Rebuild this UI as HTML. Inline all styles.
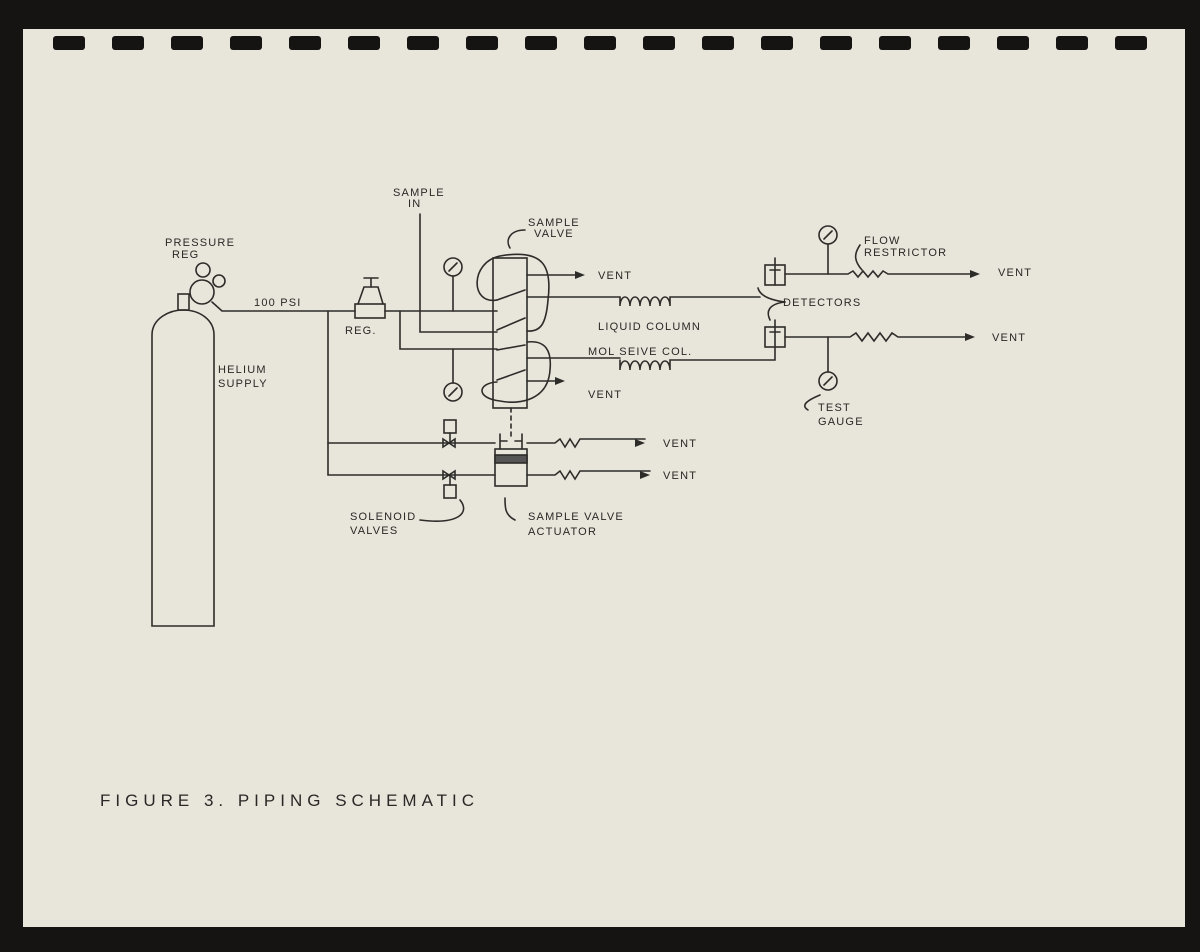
<!DOCTYPE html>
<html><head><meta charset="utf-8"><style>
html,body{margin:0;padding:0;background:#151413;}
svg{display:block}
text{font-family:"Liberation Sans",sans-serif;fill:#2a2826;font-size:11px;letter-spacing:1.2px}
</style></head><body>
<svg width="1200" height="952" viewBox="0 0 1200 952" xmlns="http://www.w3.org/2000/svg">
<rect width="1200" height="952" fill="#151413"/>
<rect x="23" y="29" width="1162" height="898" fill="#e8e5db"/>
<g fill="#151413">
<rect x="53" y="36" width="32" height="14" rx="3"/><rect x="112" y="36" width="32" height="14" rx="3"/><rect x="171" y="36" width="32" height="14" rx="3"/><rect x="230" y="36" width="32" height="14" rx="3"/><rect x="289" y="36" width="32" height="14" rx="3"/><rect x="348" y="36" width="32" height="14" rx="3"/><rect x="407" y="36" width="32" height="14" rx="3"/><rect x="466" y="36" width="32" height="14" rx="3"/><rect x="525" y="36" width="32" height="14" rx="3"/><rect x="584" y="36" width="32" height="14" rx="3"/><rect x="643" y="36" width="32" height="14" rx="3"/><rect x="702" y="36" width="32" height="14" rx="3"/><rect x="761" y="36" width="32" height="14" rx="3"/><rect x="820" y="36" width="32" height="14" rx="3"/><rect x="879" y="36" width="32" height="14" rx="3"/><rect x="938" y="36" width="32" height="14" rx="3"/><rect x="997" y="36" width="32" height="14" rx="3"/><rect x="1056" y="36" width="32" height="14" rx="3"/><rect x="1115" y="36" width="32" height="14" rx="3"/>
</g>
<g stroke="#2e2c29" stroke-width="1.6" fill="none" stroke-linecap="round">
<path d="M152 626 V335 C152 318 170 310 183 310 C200 310 214 320 214 335 V626 Z"/>
<rect x="178" y="294" width="11" height="16"/>
<circle cx="202" cy="292" r="12"/><circle cx="203" cy="270" r="7"/><circle cx="219" cy="281" r="6"/>
<path d="M212 302 L222 311 H355"/>
<rect x="355" y="304" width="30" height="14"/>
<path d="M358 304 L364 287 H378 L383 304"/><path d="M371 287 V278 M364 278 H378"/>
<path d="M385 311 H497"/>
<path d="M400 311 V349 H497"/>
<path d="M420 214 V332 H497"/>
<path d="M328 311 V475 H495"/><path d="M328 443 H495"/>
<circle cx="453" cy="267" r="9"/><path d="M453 276 V311 M449 271 L457 263"/>
<circle cx="453" cy="392" r="9"/><path d="M453 383 V349 M449 396 L457 388"/>
<rect x="493" y="258" width="34" height="150"/>
<path d="M497 300 C470 305 470 262 500 256 C545 248 552 268 548 300 C546 325 540 332 527 331"/>
<path d="M527 342 C545 340 552 350 550 370 C548 400 520 405 500 401 C475 398 478 383 497 382"/>
<path d="M497 300 L525 290 M497 330 L525 318 M497 380 L525 370 M497 350 L525 345"/>
<path d="M527 275 H580"/><path d="M527 297 H620"/>
<path d="M620 297 V306 a5 9 0 1 1 10 0 a5 9 0 1 1 10 0 a5 9 0 1 1 10 0 a5 9 0 1 1 10 0 a5 9 0 1 1 10 0 V297 H760"/>
<path d="M527 358 H620"/>
<path d="M620 360 V370 a5 9 0 1 1 10 0 a5 9 0 1 1 10 0 a5 9 0 1 1 10 0 a5 9 0 1 1 10 0 a5 9 0 1 1 10 0 V360 H775 V348"/>
<path d="M527 381 H560"/>
<path d="M511 408 V440" stroke-dasharray="4 4"/>
<rect x="495" y="449" width="32" height="37"/>
<rect x="495" y="455" width="32" height="8" fill="#555"/>
<path d="M500 449 V434 M522 449 V434 M500 441 H507 M515 441 H522"/>
<path d="M527 443 H555 l5 -4 5 8 5 -8 5 8 5 -8 H645"/><path d="M527 475 H555 l5 -4 5 8 5 -8 5 8 5 -8 H650"/>
<path d="M443 439 l12 8 v-8 l-12 8 z M443 471 l12 8 v-8 l-12 8 z"/>
<rect x="444" y="420" width="12" height="13"/><path d="M450 433 V443"/>
<rect x="444" y="485" width="12" height="13"/><path d="M450 475 V485"/>
<rect x="765" y="265" width="20" height="20"/><path d="M775 258 V285 M770 270 H780"/>
<rect x="765" y="327" width="20" height="20"/><path d="M775 320 V347 M770 332 H780"/>
<path d="M785 274 H848 l5 -3 5 6 5 -6 5 6 5 -6 5 6 5 -6 5 3 H975"/>
<path d="M785 337 H850 l6 -4 6 8 6 -8 6 8 6 -8 6 8 6 -8 6 4 H970"/>
<circle cx="828" cy="235" r="9"/><path d="M828 244 V274 M824 239 L832 231"/>
<circle cx="828" cy="381" r="9"/><path d="M828 372 V337 M824 385 L832 377"/>
<path d="M525 230 C510 230 505 240 510 248"/>
<path d="M860 245 C853 255 855 262 862 270"/>
<path d="M785 302 C770 300 760 296 758 288"/><path d="M785 302 C768 304 766 312 770 320"/>
<path d="M820 395 C808 400 800 405 808 410"/>
<path d="M420 520 C460 525 470 512 460 500"/>
<path d="M515 520 C505 515 505 508 505 498"/>
</g>
<g fill="#2e2c29">
<path d="M585 275 l-10 -4 v8z M645 443 l-10 -4 v8z M650 475 l-10 -4 v8z M980 274 l-10 -4 v8z M975 337 l-10 -4 v8z M565 381 l-10 -4 v8z"/>
</g>
<text x="393" y="196">SAMPLE</text><text x="408" y="207">IN</text>
<text x="528" y="226">SAMPLE</text><text x="534" y="237">VALVE</text>
<text x="165" y="246">PRESSURE</text><text x="172" y="258">REG</text>
<text x="254" y="306">100 PSI</text><text x="345" y="334">REG.</text>
<text x="218" y="373">HELIUM</text><text x="218" y="387">SUPPLY</text>
<text x="598" y="279">VENT</text><text x="588" y="398">VENT</text>
<text x="598" y="330">LIQUID COLUMN</text><text x="588" y="355">MOL SEIVE COL.</text>
<text x="864" y="244">FLOW</text><text x="864" y="256">RESTRICTOR</text>
<text x="783" y="306">DETECTORS</text>
<text x="998" y="276">VENT</text><text x="992" y="341">VENT</text>
<text x="818" y="411">TEST</text><text x="818" y="425">GAUGE</text>
<text x="663" y="447">VENT</text><text x="663" y="479">VENT</text>
<text x="350" y="520">SOLENOID</text><text x="350" y="534">VALVES</text>
<text x="528" y="520">SAMPLE VALVE</text><text x="528" y="535">ACTUATOR</text>
<text x="100" y="806" style="font-size:17px;letter-spacing:5px">FIGURE 3.  PIPING  SCHEMATIC</text>
</svg>
</body></html>
